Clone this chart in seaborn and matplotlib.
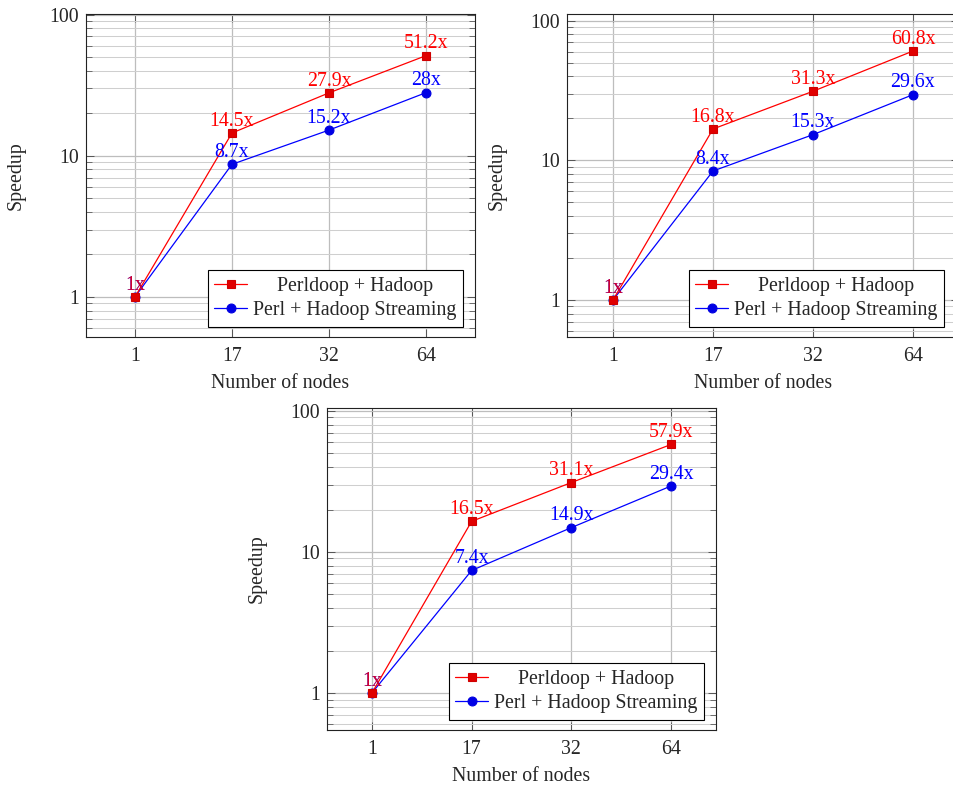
import matplotlib
matplotlib.use("Agg")
import matplotlib.pyplot as plt
import matplotlib.ticker as mticker
import seaborn as sns
import pandas as pd

# Node counts on the x axis (categorical)
nodes = ["1", "17", "32", "64"]

# Speedups, one pair of series per panel
perldoop_a = [1, 14.5, 27.9, 51.2]
streaming_a = [1, 8.7, 15.2, 28]
perldoop_b = [1, 16.8, 31.3, 60.8]
streaming_b = [1, 8.4, 15.3, 29.6]
perldoop_c = [1, 16.5, 31.1, 57.9]
streaming_c = [1, 7.4, 14.9, 29.4]

series_names = ["Perldoop + Hadoop", "Perl + Hadoop Streaming"]

sns.set_style("ticks")
plt.rcParams["font.family"] = ["Liberation Serif", "DejaVu Serif"]
plt.rcParams["font.size"] = 14.3

FS = 14.3
RED = "#ff0000"
BLUE = "#0000ff"
styles = {
    series_names[0]: dict(color=RED, marker="s", mfc="#e00000", mec="#d00000", ms=6.2),
    series_names[1]: dict(color=BLUE, marker="o", mfc="#0000e6", mec="#0000e0", ms=6.4),
}

W, H = 954, 785
fig = plt.figure(figsize=(W / 100, H / 100), dpi=100)


def px_axes(left, top, right, bottom):
    return fig.add_axes([left / W, 1 - bottom / H, (right - left) / W, (bottom - top) / H])


def speedup_panel(ax, perldoop, streaming, xlim, ylim, legend_anchor):
    pos = list(range(len(nodes)))
    df = pd.DataFrame({
        "pos": pos * 2,
        "speedup": perldoop + streaming,
        "series": [series_names[0]] * len(pos) + [series_names[1]] * len(pos),
    })
    handles = []
    # blue first so the red series sits on top
    for name in [series_names[1], series_names[0]]:
        st = styles[name]
        sub = df[df["series"] == name]
        sns.lineplot(data=sub, x="pos", y="speedup", ax=ax, color=st["color"],
                     marker=st["marker"], markersize=st["ms"],
                     markerfacecolor=st["mfc"], markeredgecolor=st["mec"],
                     markeredgewidth=0.8, linewidth=0.9, label=name,
                     legend=False, zorder=3)
        handles.append(ax.lines[-1])
        for x, v in zip(sub["pos"], sub["speedup"]):
            ax.annotate(f"{v:g}x", xy=(x, v), xytext=(0, 5.2),
                        textcoords="offset points", ha="center", va="baseline",
                        color=st["color"], fontsize=FS, zorder=4,
                        alpha=0.82 if v == 1 and name == series_names[0] else 1)

    ax.set_yscale("log")
    ax.set_xlim(*xlim)
    ax.set_ylim(*ylim)
    ax.set_xticks(pos, labels=nodes)
    ax.yaxis.set_major_locator(mticker.FixedLocator([1, 10, 100]))
    ax.yaxis.set_major_formatter(mticker.FixedFormatter(["1", "10", "100"]))
    ax.yaxis.set_minor_locator(mticker.LogLocator(base=10, subs=range(2, 10), numticks=20))
    ax.yaxis.set_minor_formatter(mticker.NullFormatter())
    ax.xaxis.set_minor_locator(mticker.NullLocator())

    ax.set_axisbelow(True)
    ax.grid(True, which="major", axis="both", color="#bdbdbd", linewidth=0.9)
    ax.grid(True, which="minor", axis="y", color="#cfcfcf", linewidth=0.75)

    ax.tick_params(which="major", direction="in", length=6, width=0.6,
                   top=True, right=True, labelsize=FS, color="#444444")
    ax.tick_params(which="minor", direction="in", length=4, width=0.5,
                   top=False, right=True, color="#444444")
    ax.tick_params(axis="x", which="major", pad=7)
    ax.tick_params(axis="y", which="major", pad=5)
    for sp in ax.spines.values():
        sp.set_visible(True)
        sp.set_color("#222222")
        sp.set_linewidth(0.8)

    ax.set_xlabel("Number of nodes", fontsize=FS, labelpad=6)
    ax.set_ylabel("Speedup", fontsize=FS, labelpad=17)

    leg = ax.legend(handles=[handles[1], handles[0]], labels=series_names,
                    loc="lower right", bbox_to_anchor=legend_anchor,
                    borderaxespad=0, frameon=True, fancybox=False, shadow=False,
                    framealpha=1, edgecolor="black", fontsize=FS,
                    handlelength=1.65, handletextpad=0.3, borderpad=0.33,
                    labelspacing=0.28)
    leg.get_frame().set_linewidth(0.8)
    leg.set_zorder(5)
    return leg


ax_a = px_axes(86, 14, 475, 337)
leg_a = speedup_panel(ax_a, perldoop_a, streaming_a, (-0.505, 3.505), (0.52, 101),
                      ((463 - 86) / 389, 10 / 323))

ax_b = px_axes(567, 14, 959, 337)
leg_b = speedup_panel(ax_b, perldoop_b, streaming_b, (-0.46, 3.46), (0.543, 112),
                      ((944 - 567) / 392, 10 / 323))

ax_c = px_axes(327, 408, 716, 730)
leg_c = speedup_panel(ax_c, perldoop_c, streaming_c, (-0.45, 3.45), (0.547, 105),
                      ((704 - 327) / 389, 10 / 322))

# centre the legend labels within their column
fig.canvas.draw()
renderer = fig.canvas.get_renderer()
for leg in (leg_a, leg_b, leg_c):
    texts = leg.get_texts()
    widths = [t.get_window_extent(renderer).width for t in texts]
    wmax = max(widths)
    for t, w in zip(texts, widths):
        t.set_x((wmax - w) / 2)

fig.savefig("out.png", dpi=100)
